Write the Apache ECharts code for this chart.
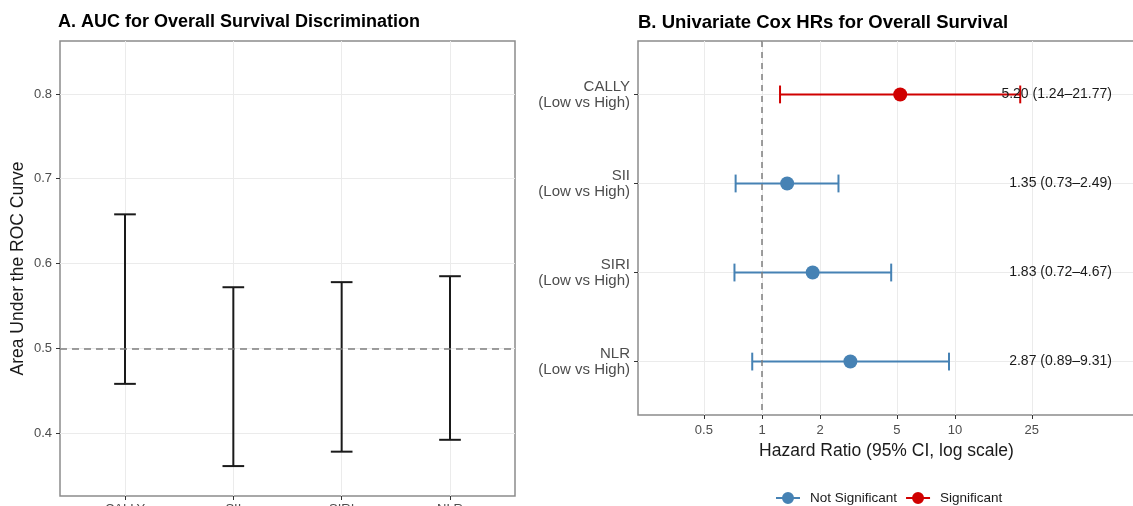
<!DOCTYPE html>
<html>
<head>
<meta charset="utf-8">
<script src="https://cdn.jsdelivr.net/npm/echarts@6/dist/echarts.min.js"></script>
<style>
  html, body { margin: 0; padding: 0; background: #fff; }
  #main { width: 1133px; height: 506px; }
</style>
</head>
<body>
<div id="main"></div>
<script>
// panel A: AUC (95% CI) per marker
var aucCats = ['CALLY', 'SII', 'SIRI', 'NLR'];
var aucLow = [0.458, 0.361, 0.378, 0.392];
var aucHigh = [0.658, 0.572, 0.578, 0.585];
var aucTicks = [0.4, 0.5, 0.6, 0.7, 0.8];

// panel B: univariate Cox hazard ratios
var hrCats = ['CALLY\n(Low vs High)', 'SII\n(Low vs High)', 'SIRI\n(Low vs High)', 'NLR\n(Low vs High)'];
var hrEst = [5.20, 1.35, 1.83, 2.87];
var hrLow = [1.24, 0.73, 0.72, 0.89];
var hrHigh = [21.77, 2.49, 4.67, 9.31];
var hrSig = [true, false, false, false];
var hrTicks = [0.5, 1, 2, 5, 10, 25];

var FONT = '"Liberation Sans", Arial, sans-serif';
var LABEL_X = 65; // HR value where the text labels end (right aligned)
var KEY = 'path://M0,5L24,5L24,7L0,7Z M18,6A6,6,0,1,1,6,6A6,6,0,1,1,18,6Z';

var catPos = [1, 2, 3, 4];
var aucData = aucCats.map(function (c, i) { return [i + 1, aucLow[i], aucHigh[i]]; });
var hrNs = [], hrS = [];
hrCats.forEach(function (c, i) {
  var row = [i + 1, hrEst[i], hrLow[i], hrHigh[i]];
  (hrSig[i] ? hrS : hrNs).push(row);
});

function renderAuc(params, api) {
  var x = api.value(0);
  var lo = api.coord([x, api.value(1)]);
  var hi = api.coord([x, api.value(2)]);
  var half = api.size([0.1, 0])[0];
  var st = { stroke: '#1a1a1a', lineWidth: 2 };
  return {
    type: 'group',
    children: [
      { type: 'line', shape: { x1: lo[0], y1: lo[1], x2: hi[0], y2: hi[1] }, style: st },
      { type: 'line', shape: { x1: lo[0] - half, y1: lo[1], x2: lo[0] + half, y2: lo[1] }, style: st },
      { type: 'line', shape: { x1: hi[0] - half, y1: hi[1], x2: hi[0] + half, y2: hi[1] }, style: st }
    ]
  };
}

function renderHr(params, api) {
  var row = api.value(0);
  var est = api.value(1), l = api.value(2), h = api.value(3);
  var c = api.coord([est, row]);
  var lo = api.coord([l, row]);
  var hi = api.coord([h, row]);
  var lab = api.coord([LABEL_X, row]);
  var half = api.size([0, 0.1])[1];
  var color = api.visual('color');
  var st = { stroke: color, lineWidth: 2 };
  return {
    type: 'group',
    children: [
      { type: 'line', shape: { x1: lo[0], y1: lo[1], x2: hi[0], y2: hi[1] }, style: st },
      { type: 'line', shape: { x1: lo[0], y1: lo[1] - half, x2: lo[0], y2: lo[1] + half }, style: st },
      { type: 'line', shape: { x1: hi[0], y1: hi[1] - half, x2: hi[0], y2: hi[1] + half }, style: st },
      { type: 'circle', shape: { cx: c[0], cy: c[1], r: 7 }, style: { fill: color } },
      {
        type: 'text', x: lab[0], y: lab[1],
        style: {
          text: est.toFixed(2) + ' (' + l.toFixed(2) + '\u2013' + h.toFixed(2) + ')',
          fill: '#1a1a1a', font: '14px ' + FONT, align: 'right', verticalAlign: 'middle'
        }
      }
    ]
  };
}

var tickStyle = { show: true, length: 4, lineStyle: { color: '#333', width: 1 } };
var gridLine = { show: true, lineStyle: { color: '#ebebeb', width: 1 } };
var labelStyle = { color: '#4d4d4d', fontSize: 13, fontFamily: FONT };

var chart = echarts.init(document.getElementById('main'));
chart.setOption({
  animation: false,
  textStyle: { fontFamily: FONT },
  title: [
    {
      text: 'A. AUC for Overall Survival Discrimination', left: 58, top: 13, padding: 0,
      textStyle: { fontSize: 18, fontWeight: 'bold', color: '#000', fontFamily: FONT }
    },
    {
      text: 'B. Univariate Cox HRs for Overall Survival', left: 638, top: 13, padding: 0,
      textStyle: { fontSize: 18.5, fontWeight: 'bold', color: '#000', fontFamily: FONT }
    }
  ],
  legend: {
    left: 771, top: 486, itemWidth: 24, itemHeight: 12, itemGap: 9,
    textStyle: { fontSize: 13.5, color: '#1a1a1a', fontFamily: FONT, padding: [0, 0, 0, 5] },
    data: [{ name: 'Not Significant', icon: KEY }, { name: 'Significant', icon: KEY }]
  },
  grid: [
    { left: 60, top: 41, width: 455, bottom: 10, show: true, borderColor: '#8c8c8c', borderWidth: 1.5, outerBoundsMode: 'none' },
    { left: 638, top: 41, right: -2, bottom: 91, show: true, borderColor: '#8c8c8c', borderWidth: 1.5, outerBoundsMode: 'none' }
  ],
  xAxis: [
    {
      gridIndex: 0, type: 'value', min: 0.4, max: 4.6,
      axisLine: { show: false },
      axisTick: Object.assign({ customValues: catPos }, tickStyle),
      axisLabel: Object.assign({ customValues: catPos, margin: 7, formatter: function (v) { return aucCats[v - 1]; } }, labelStyle),
      splitLine: gridLine
    },
    {
      gridIndex: 1, type: 'log', min: 0.2278, max: 85.6,
      name: 'Hazard Ratio (95% CI, log scale)', nameLocation: 'middle', nameGap: 25,
      nameTextStyle: { fontSize: 17.5, color: '#1a1a1a', fontFamily: FONT },
      axisLine: { show: false },
      axisTick: Object.assign({ customValues: hrTicks }, tickStyle),
      axisLabel: Object.assign({ customValues: hrTicks, margin: 9, formatter: function (v) { return String(+(+v).toFixed(2)); } }, labelStyle),
      splitLine: gridLine
    }
  ],
  yAxis: [
    {
      gridIndex: 0, type: 'value', min: 0.3257, max: 0.8625,
      name: 'Area Under the ROC Curve', nameLocation: 'middle', nameGap: 33,
      nameTextStyle: { fontSize: 17.5, color: '#1a1a1a', fontFamily: FONT },
      axisLine: { show: false },
      axisTick: Object.assign({ customValues: aucTicks }, tickStyle),
      axisLabel: Object.assign({ customValues: aucTicks, margin: 8, formatter: function (v) { return (+v).toFixed(1); } }, labelStyle),
      splitLine: gridLine
    },
    {
      gridIndex: 1, type: 'value', min: 0.4, max: 4.6, inverse: true,
      axisLine: { show: false },
      axisTick: Object.assign({ customValues: catPos }, tickStyle),
      axisLabel: Object.assign({}, labelStyle, {
        customValues: catPos, margin: 8, fontSize: 15, lineHeight: 16, align: 'right',
        formatter: function (v) { return hrCats[v - 1]; }
      }),
      splitLine: gridLine
    }
  ],
  series: [
    {
      type: 'custom', xAxisIndex: 0, yAxisIndex: 0,
      data: aucData, encode: { x: 0, y: [1, 2] },
      renderItem: renderAuc,
      markLine: {
        silent: true, symbol: 'none', label: { show: false },
        lineStyle: { color: '#7f7f7f', type: [7, 5], width: 1.5 },
        data: [{ yAxis: 0.5 }]
      }
    },
    {
      name: 'Not Significant', type: 'custom', xAxisIndex: 1, yAxisIndex: 1,
      data: hrNs, encode: { x: [1, 2, 3], y: 0 },
      itemStyle: { color: '#4682B4' },
      renderItem: renderHr,
      markLine: {
        silent: true, symbol: 'none', label: { show: false },
        lineStyle: { color: '#7f7f7f', type: [6, 5], width: 1.5 },
        data: [{ xAxis: 1 }]
      }
    },
    {
      name: 'Significant', type: 'custom', xAxisIndex: 1, yAxisIndex: 1,
      data: hrS, encode: { x: [1, 2, 3], y: 0 },
      itemStyle: { color: '#D00000' },
      renderItem: renderHr
    }
  ]
});
</script>
</body>
</html>
